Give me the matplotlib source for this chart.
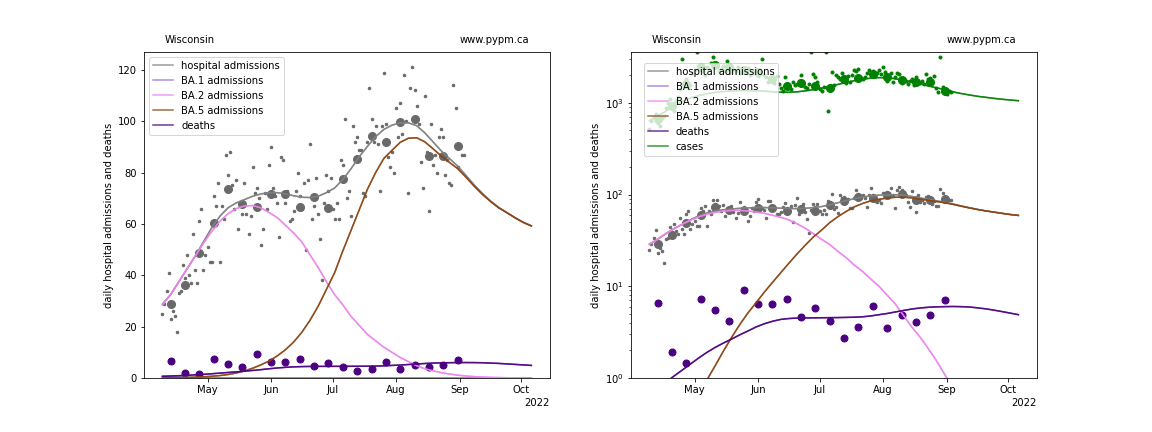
import matplotlib
matplotlib.use("Agg")
import matplotlib.pyplot as plt
import matplotlib.dates as mdates
import pandas as pd

# daily hospital admissions, from 2022-04-09
hosp_daily = [25, 29, 34, 41, 23, 26, 24, 18, 33, 34, 44, 39, 48, 40,
              37, 56, 42, 37, 61, 66, 42, 48, 51, 45, 45, 71, 67, 76,
              45, 67, 62, 87, 79, 88, 75, 66, 77, 58, 68, 64, 76, 64,
              56, 63, 82, 72, 74, 70, 52, 58, 72, 66, 83, 90, 74, 71,
              68, 55, 86, 85, 68, 73, 61, 62, 65, 73, 80, 71, 66, 76,
              50, 77, 91, 62, 67, 78, 64, 54, 38, 68, 79, 73, 78, 66,
              62, 68, 62, 85, 83, 101, 70, 73, 63, 98, 92, 94, 89, 89,
              72, 71, 92, 113, 101, 92, 98, 91, 73, 98, 119, 99, 86, 82,
              88, 80, 105, 94, 107, 95, 118, 100, 72, 113, 121, 112, 106, 99,
              84, 74, 110, 88, 65, 99, 83, 87, 80, 94, 97, 94, 79, 85,
              76, 75, 114, 105, 82, 90, 87, 87]

# daily cases, from 2022-04-09
cases_daily = [520, 640, 700, 760, 610, 560, 690,
               720, 880, 1000, 1100, 950, 820, 1050,
               1150, 1400, 2990, 1600, 1800, 1450, 1550,
               2100, 2300, 3600, 2400, 2550, 2200, 2000,
               2450, 2350, 2700, 3150, 2650, 2500, 2250,
               2350, 2500, 2250, 2850, 2450, 2150, 2350,
               2200, 2450, 2100, 2350, 2250, 2150, 2400,
               2000, 2200, 2100, 2300, 1950, 2050, 2990,
               2000, 1900, 1700, 1850, 1750, 1650, 1950,
               1600, 1450, 1350, 1930, 1550, 1500, 1400,
               1700, 1550, 1600, 1750, 1990, 1650, 1500,
               1450, 1600, 3600, 2060, 1930, 1700, 1400,
               1350, 1500, 3600, 817, 1400, 2180, 1550,
               2000, 1900, 1800, 2100, 1750, 1650, 1950,
               1700, 2000, 2300, 2200, 2350, 1850, 1800,
               1900, 2100, 2300, 2050, 2200, 1950, 2100,
               2300, 2050, 2450, 2150, 1750, 1900, 2100,
               1700, 1900, 2100, 2050, 1650, 1800, 1750,
               1600, 1750, 1800, 1550, 1900, 1700, 1650,
               1750, 1600, 2050, 1800, 1850, 1700, 1950,
               1450, 1300, 3200, 1500, 1400, 1250, 1350, 1300]

# weekly averages, from 2022-04-13
hosp_weekly = [29.0, 36.4, 48.7, 60.2, 73.5, 67.9, 66.7, 71.8, 71.8, 66.7, 70.4,
               66.2, 77.4, 85.2, 94.1, 92.1, 99.9, 101.0, 86.3, 86.3, 90.2]
deaths_weekly = [6.6, 1.9, 1.45, 7.3, 5.5, 4.2, 9.2, 6.4, 6.4, 7.3, 4.6,
                 5.8, 4.2, 2.7, 3.6, 6.1, 3.5, 4.9, 4.1, 4.9, 7.1]
cases_weekly = [660, 935, 1600, 2450, 2600, 2450, 2300, 2150, 1830, 1525, 1660,
                1525, 1436, 1800, 1880, 2040, 1930, 1775, 1670, 1700, 1360]

# model curves, every 4 days from 2022-04-09
model_days = list(range(0, 181, 4))
hosp_model = [28.8, 32.5, 37.5, 42.5, 47.5, 53, 58.5, 63, 66.3, 68.2, 69.5,
              70.8, 71.7, 72.2, 72.2, 71.7, 71, 70.4, 70.3, 70.8, 72.2, 74,
              77.3, 81.5, 86.2, 90.2, 94, 96.8, 98.5, 99.4, 99.4, 98.3, 95.5,
              92, 88.5, 85.5, 82.6, 79, 75.3, 72, 69, 66.5, 64.5, 62.5, 60.7,
              59.3]
ba1_model = [0.4, 0.3, 0.22, 0.17, 0.13, 0.1, 0.07, 0.05, 0.04, 0.03, 0.02,
             0.02, 0.01, 0.01, 0.01, 0, 0, 0, 0, 0, 0, 0, 0, 0, 0, 0, 0, 0,
             0, 0, 0, 0, 0, 0, 0, 0, 0, 0, 0, 0, 0, 0, 0, 0, 0, 0]
ba2_model = [28.5, 32.5, 37.5, 42.5, 47.5, 52.5, 57, 61, 64, 66, 67, 67.2,
             66.3, 64.5, 62.5, 59.5, 56.5, 53, 48, 43, 37.5, 32.5, 28.5, 24,
             20.5, 17, 14.5, 12, 10, 8, 6.4, 4.8, 3.6, 2.8, 2.1, 1.55, 1.1,
             0.78, 0.55, 0.38, 0.25, 0.17, 0.11, 0.07, 0.05, 0.03]
ba5_model = [0.07, 0.1, 0.15, 0.22, 0.33, 0.48, 0.68, 0.95, 1.35, 1.95, 2.75,
             3.8, 5.1, 6.6, 8.6, 11, 14, 17.8, 22.5, 28, 34.5, 41, 49.5, 57.5,
             65.5, 73.5, 80, 85.5, 88.7, 91.8, 93.4, 93.6, 92, 89.3, 86.5, 84,
             81.6, 78.3, 74.8, 71.6, 68.8, 66.3, 64.4, 62.4, 60.6, 59.2]
deaths_model = [0.68, 0.78, 0.9, 1.05, 1.22, 1.42, 1.65, 1.9, 2.15, 2.4, 2.65,
                2.95, 3.25, 3.6, 3.9, 4.15, 4.35, 4.45, 4.5, 4.52, 4.53, 4.54,
                4.55, 4.56, 4.58, 4.6, 4.65, 4.75, 4.9, 5.05, 5.25, 5.45, 5.65,
                5.8, 5.9, 5.97, 6.0, 6.02, 6.0, 5.95, 5.82, 5.68, 5.5, 5.3,
                5.1, 4.9]
cases_model = [640, 720, 810, 920, 1040, 1130, 1200, 1255, 1300, 1330, 1350,
               1360, 1362, 1355, 1340, 1320, 1305, 1305, 1320, 1350, 1395,
               1450, 1515, 1590, 1670, 1745, 1810, 1860, 1885, 1880, 1830,
               1760, 1690, 1610, 1530, 1460, 1395, 1320, 1265, 1220, 1180,
               1150, 1120, 1095, 1075, 1055]

start = pd.Timestamp("2022-04-09")
daily_dates = pd.date_range(start, periods=len(hosp_daily))
weekly_dates = pd.date_range("2022-04-13", periods=len(hosp_weekly), freq="7D")
model_dates = [start + pd.Timedelta(days=d) for d in model_days]

curves = [("hospital admissions", hosp_model, "grey"),
          ("BA.1 admissions", ba1_model, "mediumpurple"),
          ("BA.2 admissions", ba2_model, "violet"),
          ("BA.5 admissions", ba5_model, "saddlebrown"),
          ("deaths", deaths_model, "indigo")]

fig, axes = plt.subplots(1, 2, figsize=(16, 6), dpi=72)
fig.subplots_adjust(bottom=0.125)

for i, ax in enumerate(axes):
    ax.plot(daily_dates, hosp_daily, "o", color="dimgray", ms=2.5)
    ax.plot(weekly_dates, hosp_weekly, "o", color="dimgray", ms=8)
    ax.plot(weekly_dates, deaths_weekly, "o", color="indigo", ms=7)
    lines = curves if i == 0 else curves + [("cases", cases_model, "green")]
    if i == 1:
        ax.plot(daily_dates, cases_daily, "o", color="green", ms=3)
        ax.plot(weekly_dates, cases_weekly, "o", color="green", ms=8)
    for label, vals, c in lines:
        ax.plot(model_dates, vals, color=c, alpha=0.8, label=label)
        ax.plot(model_dates, vals, color=c, alpha=0.8)

    ax.xaxis.set_major_locator(mdates.MonthLocator(bymonth=[5, 6, 7, 8, 9, 10]))
    ax.xaxis.set_major_formatter(mdates.ConciseDateFormatter(ax.xaxis.get_major_locator()))
    ax.set_ylabel("daily hospital admissions and deaths")
    ax.text(0.05, 1.02, "Wisconsin", transform=ax.transAxes, va="bottom")
    ax.text(0.95, 1.02, "www.pypm.ca", transform=ax.transAxes, va="bottom", ha="right")

axes[0].set_ylim(bottom=0)
axes[0].legend(loc="upper left")
axes[1].set_yscale("log")
axes[1].set_ylim(1, 3600)
axes[1].legend(loc="upper left", bbox_to_anchor=(0.019, 0.982))

plt.savefig("out.png")
